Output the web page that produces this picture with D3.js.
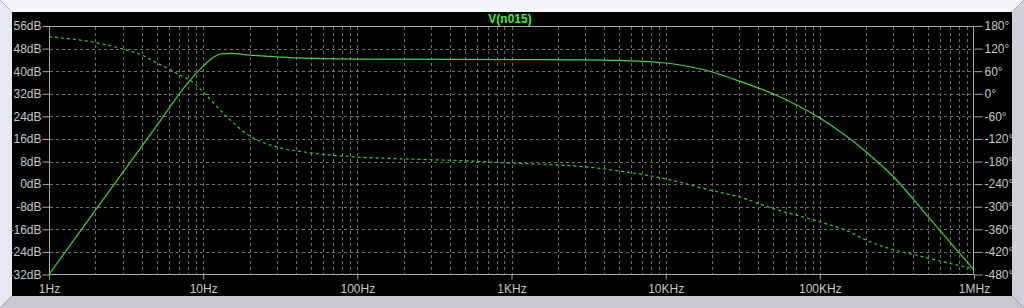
<!DOCTYPE html>
<html><head><meta charset="utf-8">
<script src="https://cdn.jsdelivr.net/npm/d3@7/dist/d3.min.js"></script>
<style>html,body{margin:0;padding:0;background:#000;overflow:hidden}</style>
</head><body>
<svg id="c" width="1024" height="308"></svg>
<script>
const title = "V(n015)";
const freqTicks = [1, 10, 100, 1e3, 1e4, 1e5, 1e6];
const freqLabels = ["1Hz", "10Hz", "100Hz", "1KHz", "10KHz", "100KHz", "1MHz"];
const dbTicks = [56, 48, 40, 32, 24, 16, 8, 0, -8, -16, -24, -32];
const phaseTicks = [180, 120, 60, 0, -60, -120, -180, -240, -300, -360, -420, -480];
const magFreq = [1, 2, 5, 8, 10, 12, 13, 15, 20, 30, 40, 100, 1000, 3000, 5000, 10000, 20000, 30000, 50000, 100000, 200000, 300000, 500000, 1000000];
const magDb   = [-32, -9.2, 20.7, 36.0, 41.8, 45.4, 46.1, 46.3, 45.7, 45.1, 44.7, 44.3, 44.1, 44.0, 43.8, 42.9, 39.7, 36.5, 31.9, 23.4, 11.4, 2.6, -11.3, -30.4];
const phFreq = [1, 2, 3, 4, 5, 6, 7, 8, 10, 12, 15, 20, 30, 50, 100, 200, 500, 1000, 2000, 3000, 5000, 10000, 20000, 30000, 50000, 100000, 150000, 200000, 500000, 1000000];
const phDeg  = [151, 136, 119, 103, 82, 66, 50, 39, 5, -30, -70, -112, -141, -157, -168, -173, -178, -184, -189, -194, -205, -226, -257, -274, -305, -340, -364, -389, -436, -465];

const svg = d3.select("#c");
const W = 1024, H = 308;
// frame bevel
svg.append("rect").attr("x",0).attr("y",0).attr("width",W).attr("height",H).attr("fill","#000");
svg.append("polygon").attr("points",`0,0 ${W},0 1012,12 12,12`).attr("fill","#f4f4fc");
svg.append("polygon").attr("points",`0,0 12,12 12,296 0,${H}`).attr("fill","#e8e8f4");
svg.append("polygon").attr("points",`${W},0 ${W},${H} 1012,296 1012,12`).attr("fill","#d0d0dc");
svg.append("polygon").attr("points",`0,${H} 12,296 1012,296 ${W},${H}`).attr("fill","#c8c8d4");

const x = d3.scaleLog().domain([1, 1e6]).range([49, 974]);
const yDb = d3.scaleLinear().domain([-32, 56]).range([274.5, 26]);
const yPh = d3.scaleLinear().domain([-480, 180]).range([274.5, 26]);

const g = svg.append("g");
// vertical grid
const minor = [];
for (let d = 1; d < 1e6; d *= 10) for (let m = 1; m <= 9; m++) { if (!(d === 1 && m === 1)) minor.push(d * m); }
g.selectAll(".vg").data(minor).join("line")
  .attr("x1", d => Math.round(x(d)) + 0.5).attr("x2", d => Math.round(x(d)) + 0.5)
  .attr("y1", 27).attr("y2", 274)
  .attr("stroke", "#707070").attr("stroke-width", 1).attr("stroke-dasharray", "3,3");
// horizontal grid
g.selectAll(".hg").data(dbTicks.slice(1, -1)).join("line")
  .attr("x1", 50).attr("x2", 973)
  .attr("y1", d => Math.round(yDb(d)) + 0.5).attr("y2", d => Math.round(yDb(d)) + 0.5)
  .attr("stroke", "#707070").attr("stroke-width", 1).attr("stroke-dasharray", "3,3");

// border
g.append("rect").attr("x", 49.5).attr("y", 26.5).attr("width", 924).attr("height", 248)
  .attr("fill", "none").attr("stroke", "#a8a8a8").attr("stroke-width", 1);

// axes
const axL = d3.axisLeft(yDb).tickValues(dbTicks).tickSize(7).tickPadding(1).tickFormat(d => d + "dB");
const axR = d3.axisRight(yPh).tickValues(phaseTicks).tickSize(8).tickPadding(2).tickFormat(d => d + "°");
const axB = d3.axisBottom(x).tickValues(freqTicks).tickSize(5).tickPadding(5).tickFormat((d, i) => freqLabels[i]);
function style(sel) {
  sel.select(".domain").remove();
  sel.selectAll("line").attr("stroke", "#a8a8a8");
  sel.selectAll("text").attr("fill", "#c8c8c8").style("font-family", "Liberation Sans, Arial, sans-serif").style("font-size", "12px");
}
svg.append("g").attr("transform", "translate(49.5,0)").call(axL).call(style);
svg.append("g").attr("transform", "translate(974.5,0)").call(axR).call(style);
svg.append("g").attr("transform", "translate(0,274.5)").call(axB).call(style);

// title
svg.append("text").attr("x", 510).attr("y", 23).attr("text-anchor", "middle")
  .attr("fill", "#40f040").style("font-family", "Liberation Sans, Arial, sans-serif")
  .style("font-size", "12px").style("font-weight", "bold").text(title);

// traces
const magData = magFreq.map((f, i) => [f, magDb[i]]);
const phData = phFreq.map((f, i) => [f, phDeg[i]]);
const lineMag = d3.line().x(d => x(d[0])).y(d => yDb(d[1])).curve(d3.curveMonotoneX);
const linePh = d3.line().x(d => x(d[0])).y(d => yPh(d[1])).curve(d3.curveMonotoneX);
svg.append("path").datum(phData).attr("d", linePh).attr("fill", "none")
  .attr("stroke", "#3cc83c").attr("stroke-width", 1.2).attr("stroke-dasharray", "3,3");
svg.append("path").datum(magData).attr("d", lineMag).attr("fill", "none")
  .attr("stroke", "#44d044").attr("stroke-width", 1.2);
</script>
</body></html>
